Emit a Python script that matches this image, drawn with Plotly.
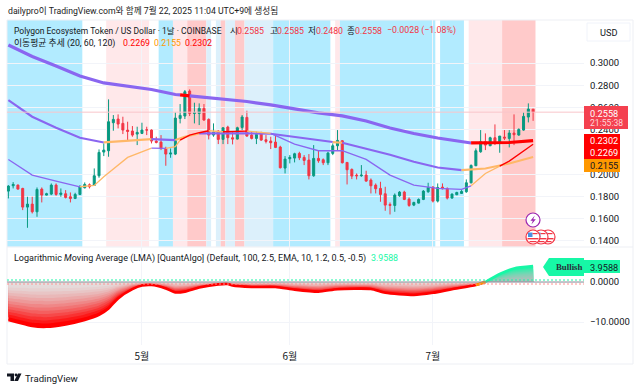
import pandas as pd
import plotly.graph_objects as go

# ---------- data ----------
first_day = "2025-04-03"
direction = ("ggrrgrgrgg" "rgrrgggrgg" "gggrrrrggr" "rrrrggggrg" "grrgrgrrgg"
             "rrgrrrrrgg" "grrrgrrggg" "rrrrgrrrrr" "rggrrggggr" "grrggggggg" "rgrgrgrgggr")
body_top = [.1893,.1908,.1902,.1872,.1731,.1731,.1863,.1866,.1824,.1902,
            .1902,.1830,.1824,.1797,.1818,.1887,.1908,.1905,.1986,.2196,
            .2217,.2472,.2493,.2496,.2457,.2397,.2388,.2376,.2397,.2400,
            .2397,.2298,.2289,.2232,.2190,.2505,.2529,.2742,.2748,.2553,
            .2592,.2592,.2493,.2379,.2388,.2418,.2424,.2328,.2418,.2514,
            .2511,.2352,.2358,.2367,.2310,.2298,.2289,.2244,.2136,.2151,
            .2184,.2187,.2151,.2127,.2142,.2142,.2130,.2190,.2256,.2304,
            .2301,.2106,.2043,.1992,.1992,.1992,.1947,.1902,.1872,.1824,
            .1728,.1812,.1839,.1839,.1776,.1746,.1773,.1848,.1881,.1884,
            .1881,.1884,.1872,.1821,.1836,.1845,.1923,.2079,.2211,.2292,
            .2292,.2328,.2328,.2343,.2334,.2370,.2370,.2403,.2520,.2586,.2585]
body_bot = [.1848,.1896,.1866,.1704,.1704,.1662,.1662,.1812,.1812,.1821,
            .1818,.1818,.1791,.1782,.1782,.1818,.1878,.1887,.1899,.1986,
            .2199,.2211,.2463,.2451,.2397,.2385,.2352,.2361,.2367,.2397,
            .2298,.2286,.2232,.2181,.2181,.2181,.2502,.2523,.2547,.2547,
            .2547,.2487,.2352,.2352,.2313,.2313,.2328,.2316,.2316,.2421,
            .2343,.2322,.2322,.2307,.2295,.2283,.2241,.2058,.2055,.2139,
            .2145,.2148,.2124,.1986,.1986,.2121,.2103,.2103,.2187,.2256,
            .2103,.2040,.1983,.1986,.1986,.1938,.1896,.1869,.1818,.1722,
            .1719,.1719,.1806,.1773,.1719,.1722,.1740,.1773,.1842,.1758,
            .1758,.1869,.1785,.1785,.1815,.1827,.1842,.1923,.2076,.2202,
            .2262,.2256,.2292,.2277,.2325,.2322,.2355,.2352,.2397,.2514,.2558]
highs = [.1902,.1929,.1908,.1878,.1797,.1797,.1881,.1881,.1833,.1917,
         .1917,.1872,.1857,.1836,.1833,.1902,.1926,.1917,.2052,.2223,
         .2277,.2673,.2532,.2538,.2517,.2472,.2433,.2427,.2463,.2427,
         .2403,.2337,.2352,.2247,.2232,.2556,.2631,.2757,.2763,.2643,
         .2637,.2631,.2502,.2457,.2397,.2418,.2436,.2382,.2427,.2532,
         .2571,.2382,.2382,.2382,.2352,.2337,.2346,.2256,.2163,.2172,
         .2193,.2202,.2172,.2181,.2262,.2217,.2142,.2202,.2277,.2397,
         .2307,.2106,.2052,.2007,.2082,.2031,.1962,.1917,.1932,.1887,
         .1746,.1827,.1848,.1851,.1791,.1752,.1782,.1857,.1923,.1893,
         .1917,.1917,.1881,.1827,.1842,.1857,.1953,.2088,.2232,.2397,
         .2367,.2337,.2448,.2343,.2397,.2397,.2538,.2412,.2556,.2637,.2585]
lows = [.1782,.1872,.1863,.1677,.1518,.1647,.1617,.1746,.1809,.1812,
        .1806,.1797,.1782,.1746,.1776,.1812,.1872,.1872,.1896,.1968,
        .2163,.2157,.2391,.2412,.2361,.2301,.2337,.2262,.2361,.2352,
        .2277,.2277,.2217,.2076,.2148,.2172,.2457,.2496,.2523,.2457,
        .2442,.2481,.2313,.2337,.2271,.2271,.2271,.2268,.2313,.2397,
        .2337,.2313,.2271,.2301,.2277,.2226,.2235,.2052,.2007,.2097,
        .2106,.2127,.2082,.1953,.1977,.2103,.2082,.2082,.2172,.2217,
        .2097,.1908,.1956,.1953,.1977,.1932,.1827,.1827,.1752,.1671,
        .1638,.1662,.1797,.1767,.1707,.1713,.1737,.1767,.1833,.1746,
        .1746,.1863,.1773,.1782,.1812,.1824,.1833,.1917,.2073,.2193,
        .2217,.2253,.2262,.2193,.2307,.2241,.2262,.2346,.2391,.2466,.2480]

ma120_days = [0,5,10,15,20,25,30,35,36,38,40,45,50,55,60,65,70,75,80,85,90,95,97,100,105,110]
ma120 = [.3162,.3059,.2973,.2883,.2821,.2794,.2762,.2717,.2713,.2704,.2695,.2672,.2654,.2623,
         .2587,.2551,.2524,.2479,.2416,.2366,.2326,.2290,.2281,.2281,.2285,.2302]
ma120_runs = [(0,36,"p"),(36,38,"r"),(38,97,"p"),(97,110,"r")]

ma60_days = [0,5,10,15,20,25,30,35,37,40,45,50,55,60,65,68,70,75,80,85,90,95,100,105,110]
ma60 = [.2667,.2517,.2418,.2328,.2286,.2304,.2316,.2307,.2337,.2367,.2370,.2367,.2364,.2334,
        .2304,.2289,.2283,.2232,.2175,.2112,.2061,.2037,.2052,.2097,.2155]
ma60_runs = [(0,20,"p"),(20,30,"o"),(30,35,"p"),(35,40,"o"),(40,68,"p"),(68,70,"o"),(70,95,"p"),(95,110,"o")]

ma20_days = [0,5,10,15,17,18,20,25,30,33,35,36,38,40,42,45,50,55,57,60,65,70,75,80,85,90,95,97,100,103,105,110]
ma20 = [.2133,.1992,.1938,.1887,.1893,.1899,.1977,.2151,.2235,.2232,.2247,.2307,.2352,.2373,.2391,
        .2382,.2388,.2367,.2331,.2271,.2211,.2211,.2133,.1992,.1902,.1872,.1863,.1896,.2007,.2073,.2118,.2269]
ma20_runs = [(0,15,"p"),(15,30,"o"),(30,33,"p"),(33,36,"o"),(36,42,"r"),(42,45,"o"),(45,50,"r"),
             (50,55,"o"),(55,97,"p"),(97,103,"o"),(103,110,"r")]

lma_days = [0,2,5,8,12,16,19,21,23,26,28,30,33,35,37,40,44,46,47,51,56,60,65,69,76,79,85,89,93,98,100,103,106,110]
lma = [-9.5,-10.1,-11,-11.2,-10.6,-9.5,-8.2,-6.6,-4.1,-1.8,-.9,-.75,-1.6,-2.6,-2.4,-1.4,-.6,-.5,-.9,
       -1.25,-1.25,-1.9,-2.4,-1.8,-1.75,-2.7,-3.25,-2.7,-1.8,-.75,0,2,3.4,3.9588]

zone_names = ["b","w","l","w","b","l","k","e","w","e","k","e","k","e","b","w","l","b","w","b","w","l","k"]
zone_days = [16,5,9,2,3,3,4,1,1,1,1,2,2,6,12,1,1,20,1,5,1,7,7]

price_ticks = [.30,.28,.26,.24,.20,.18,.16,.14]
lma_ticks = [0,-10]
month_days = ["2025-05-01","2025-06-01","2025-07-01"]
month_labels = ["5월","6월","7월"]

# ---------- styles ----------
W, H = 640, 390
FONT = "Roboto, 'Noto Sans CJK KR', sans-serif"
KOR = "'Noto Sans CJK KR', Roboto, sans-serif"
INK = "#131722"
UP, DOWN = "#089981", "#F23645"
LINE_C = {"p": "#8A66F0", "r": "#FF0000", "o": "#FFB868"}
ZONE_C = {"b": "#B2EBFF", "w": "#FFFFFF", "l": "#FFE8EA", "k": "#FFCACA", "e": "#DCF0FB"}
MINT = "#17F7A6"
GRID = "#F2F4F9"

def X(p): return p / W
def Y(p): return 1 - p / H
def day(i): return pd.Timestamp(first_day) + pd.Timedelta(days=i)
def mix(a, b, t):
    ca = [int(a[i:i+2], 16) for i in (1, 3, 5)]
    cb = [int(b[i:i+2], 16) for i in (1, 3, 5)]
    return "#%02X%02X%02X" % tuple(round(u + (v - u) * t) for u, v in zip(ca, cb))

dates = [day(i) for i in range(len(direction))]
opens = [b if d == "g" else t for d, t, b in zip(direction, body_top, body_bot)]
closes = [t if d == "g" else b for d, t, b in zip(direction, body_top, body_bot)]

fig = go.Figure()

# LMA gradient bands
def lma_part(lo, hi):
    ds = [d for d in lma_days if lo <= d <= hi]
    return ds, [lma[lma_days.index(d)] for d in ds]

N = 14
for lo, hi, edge, pale in [(0, 100, "#FF0000", "#E4E4E4"), (100, 110, MINT, "#B9BDBD")]:
    ds, vs = lma_part(lo, hi)
    xs = [day(d) for d in ds]
    for k in range(N, 0, -1):
        t = k / N
        fig.add_trace(go.Scatter(x=xs, y=[v * t for v in vs], mode="lines", xaxis="x2", yaxis="y2",
                                 line=dict(width=0, shape="spline", smoothing=0.6), fill="tozeroy",
                                 fillcolor=mix(pale, edge, t ** 1.6), hoverinfo="skip", showlegend=False))
    fig.add_trace(go.Scatter(x=xs, y=vs, mode="lines", xaxis="x2", yaxis="y2",
                             line=dict(color=edge, width=2.6, shape="spline", smoothing=0.6),
                             hoverinfo="skip", showlegend=False))
ds, vs = lma_part(98, 100)
fig.add_trace(go.Scatter(x=[day(d) for d in ds], y=vs, mode="lines", xaxis="x2", yaxis="y2",
                         line=dict(color="#FF9800", width=2.6), hoverinfo="skip", showlegend=False))

# candles
fig.add_trace(go.Candlestick(x=dates, open=opens, high=highs, low=lows, close=closes,
                             increasing=dict(line=dict(color=UP, width=1), fillcolor=UP),
                             decreasing=dict(line=dict(color=DOWN, width=1), fillcolor=DOWN),
                             whiskerwidth=0, hoverinfo="skip", showlegend=False))

# moving-average ribbon
for days, vals, runs, w in [(ma120_days, ma120, ma120_runs, 3.2),
                            (ma60_days, ma60, ma60_runs, 2.1),
                            (ma20_days, ma20, ma20_runs, 1.3)]:
    for a, b, c in runs:
        i0, i1 = days.index(a), days.index(b)
        fig.add_trace(go.Scatter(x=[day(d) for d in days[i0:i1 + 1]], y=vals[i0:i1 + 1], mode="lines",
                                 line=dict(color=LINE_C[c], width=w), hoverinfo="skip", showlegend=False))

shapes = []
# background zones
cursor = 0
for name, n in zip(zone_names, zone_days):
    if name != "w":
        shapes.append(dict(type="rect", layer="below", xref="x", yref="y domain",
                           x0=day(cursor - 0.5), x1=day(cursor + n - 0.5), y0=0, y1=1,
                           fillcolor=ZONE_C[name], line_width=0))
    cursor += n

def paper_rect(x0, y0, x1, y1, color, line=None, layer="above"):
    return dict(type="rect", xref="paper", yref="paper", x0=X(x0), x1=X(x1), y0=Y(y1), y1=Y(y0),
                fillcolor=color, layer=layer, line=dict(color=line or color, width=1 if line else 0))

def paper_path(pts, color):
    d = "M" + " L".join(f"{X(a):.5f},{Y(b):.5f}" for a, b in pts) + " Z"
    return dict(type="path", xref="paper", yref="paper", path=d, fillcolor=color, line_width=0, layer="above")

def paper_circle(cx, cy, r, fill, line, lw=1.2):
    return dict(type="circle", xref="paper", yref="paper", x0=X(cx - r), x1=X(cx + r), y0=Y(cy + r), y1=Y(cy - r),
                fillcolor=fill, line=dict(color=line, width=lw), layer="above")

# current price line, reference levels
shapes.append(dict(type="line", xref="x domain", yref="y", x0=0, x1=1, y0=closes[-1], y1=closes[-1],
                   line=dict(color="#F9C5CA", width=1), layer="above"))
shapes.append(dict(type="line", xref="x2 domain", yref="y2", x0=0, x1=1, y0=0, y1=0,
                   line=dict(color="#8A8F99", width=1), layer="above"))
shapes.append(dict(type="line", xref="x2 domain", yref="y2", x0=0, x1=1, y0=0.5, y1=0.5,
                   line=dict(color=MINT, width=1, dash="2px,2px"), layer="above"))
shapes.append(dict(type="line", xref="x2 domain", yref="y2", x0=0, x1=1, y0=-0.5, y1=-0.5,
                   line=dict(color="#FF8F8F", width=1, dash="2px,2px"), layer="above"))

# frame
shapes.append(paper_rect(7, 20, 633, 364, "rgba(0,0,0,0)", "#EDEFF4", layer="below"))
shapes.append(dict(type="line", xref="paper", yref="paper", x0=X(7), x1=X(633), y0=Y(247), y1=Y(247),
                   line=dict(color="#EDEFF4", width=1), layer="below"))

# USD button
shapes.append(dict(type="rect", xref="paper", yref="paper", x0=X(587), x1=X(630), y0=Y(41), y1=Y(23),
                   fillcolor="#FFFFFF", line=dict(color="#F0F3FA", width=1), layer="above"))
# axis value boxes
shapes.append(paper_rect(584, 106, 628, 129, "#F4404F"))
shapes.append(paper_rect(584, 134, 620, 159, "#FF0000"))
shapes.append(paper_rect(584, 159, 620, 172, "#FF9800"))
shapes.append(paper_rect(584, 260, 620, 273, MINT))
# Bullish tag
shapes.append(paper_path([(543, 267), (549, 258), (584, 258), (584, 276), (549, 276)], MINT))

# event badges
shapes.append(paper_circle(533, 220, 7, "#FFFFFF", "#9C27B0"))
shapes.append(paper_path([(534.8, 215.6), (530.4, 220.8), (532.8, 220.8), (531.4, 224.6), (535.8, 219.2), (533.2, 219.2)], "#9C27B0"))
for cx in (548, 541, 533):
    shapes.append(paper_circle(cx, 237, 7, "#FFFFFF", "#F23645", 1.2))
    shapes.append(paper_rect(cx - 5, 232.5, cx - 0.5, 237, "#4A90E2"))
    shapes.append(paper_rect(cx - 0.5, 233, cx + 4.5, 234.2, "#F23645"))
    shapes.append(paper_rect(cx - 5.5, 238, cx + 5.5, 239.4, "#F23645"))
    shapes.append(paper_rect(cx - 3.5, 241, cx + 3.5, 242.2, "#F23645"))

# TradingView logo
shapes.append(paper_path([(7, 373.5), (14, 373.5), (14, 381), (10.5, 381), (10.5, 376.5), (7, 376.5)], INK))
shapes.append(paper_circle(16, 375, 1.4, INK, INK, 0))
shapes.append(paper_path([(18, 373.5), (21.5, 373.5), (18, 381), (14.2, 381)], INK))

anns = []
def text(x, y, s, size=9, color=INK, anchor="left", family=FONT, **kw):
    anns.append(dict(xref="paper", yref="paper", x=X(x), y=Y(y), text=s, showarrow=False, xanchor=anchor,
                     yanchor="middle", align=anchor, font=dict(size=size, color=color, family=family),
                     borderpad=0, **kw))

text(7, 10, "dailypro이 TradingView.com와 함께 7월 22, 2025 11:04 UTC+9에 생성됨", 8.7, "#222222", family=FONT)
text(13, 31, "Polygon Ecosystem Token / US Dollar · 1날 · COINBASE", 8.5)
for x, s in [(229, "시"), (269, "고"), (307, "저"), (346, "종")]:
    text(x, 31, s, 8.6)
for x, s in [(236, "0.2585"), (276, "0.2585"), (315, "0.2480"), (354, "0.2558"), (386, "−0.0028 (−1.08%)")]:
    text(x, 31, s, 8.8, DOWN)
text(13, 43, "이동평균 추세 (20, 60, 120)", 8.8)
text(122, 43, "0.2269", 8.8, "#FF0000")
text(153, 43, "0.2155", 8.8, "#FF9800")
text(184, 43, "0.2302", 8.8, "#FF0000")
text(13, 258, "Logarithmic <i>M</i>oving Average (LMA) [QuantAlgo] (Default, 100, 2.5, EMA, 10, 1.2, 0.5, -0.5)", 9)
text(370, 258, "3.9588", 8.8, MINT)
text(608, 32, "USD", 9.2, anchor="center")
text(589, 113, "0.2558", 9.2, "#FFFFFF")
text(589, 122.5, "21:55:38", 8.6, "#FFD5D9")
text(589, 140.5, "0.2302", 9.2, "#FFFFFF")
text(589, 153, "0.2269", 9.2, "#FFFFFF")
text(589, 165.5, "0.2155", 9.2, INK)
text(589, 267, "3.9588", 9.2, INK)
text(555, 267, "<b>Bullish</b>", 8.8, "#2A2E39", family="'Liberation Serif', serif")
text(24, 378, "TradingView", 9.6, INK)

x_range = [day(-0.29), day(120.67)]
axis_x = dict(type="date", range=x_range, tickvals=month_days, showline=False, zeroline=False,
              gridcolor=GRID, gridwidth=1, ticks="")
fig.update_layout(
    width=W, height=H, autosize=False, margin=dict(l=0, r=0, t=0, b=0),
    paper_bgcolor="#FFFFFF", plot_bgcolor="rgba(0,0,0,0)", showlegend=False, boxgap=0.4,
    font=dict(family=FONT, color=INK, size=9.5),
    xaxis=dict(axis_x, domain=[X(7), X(584)], anchor="y", showticklabels=False,
               rangeslider=dict(visible=False)),
    xaxis2=dict(axis_x, domain=[X(7), X(584)], anchor="y2", showticklabels=True, ticktext=month_labels,
                tickfont=dict(family=KOR, size=10, color=INK), ticks="outside", ticklen=2, tickcolor="rgba(0,0,0,0)"),
    yaxis=dict(domain=[Y(246.7), Y(20)], range=[0.1348, 0.3387], side="right", anchor="x",
               tickvals=price_ticks, ticktext=[f"{v:.4f}" for v in price_ticks], gridcolor=GRID,
               zeroline=False, showline=False, ticks="outside", ticklen=3, tickcolor="rgba(0,0,0,0)",
               tickfont=dict(size=9.5, color=INK)),
    yaxis2=dict(domain=[Y(345), Y(247)], range=[-15.75, 8.75], side="right", anchor="x2",
                tickvals=lma_ticks, ticktext=["0.0000", "−10.0000"], gridcolor=GRID,
                zeroline=False, showline=False, ticks="outside", ticklen=3, tickcolor="rgba(0,0,0,0)",
                tickfont=dict(size=9.5, color=INK)),
    shapes=shapes, annotations=anns,
)
fig.write_html("out.html", config=dict(displayModeBar=False),
               post_script="document.body.style.margin='0';document.documentElement.style.overflow='hidden';")
